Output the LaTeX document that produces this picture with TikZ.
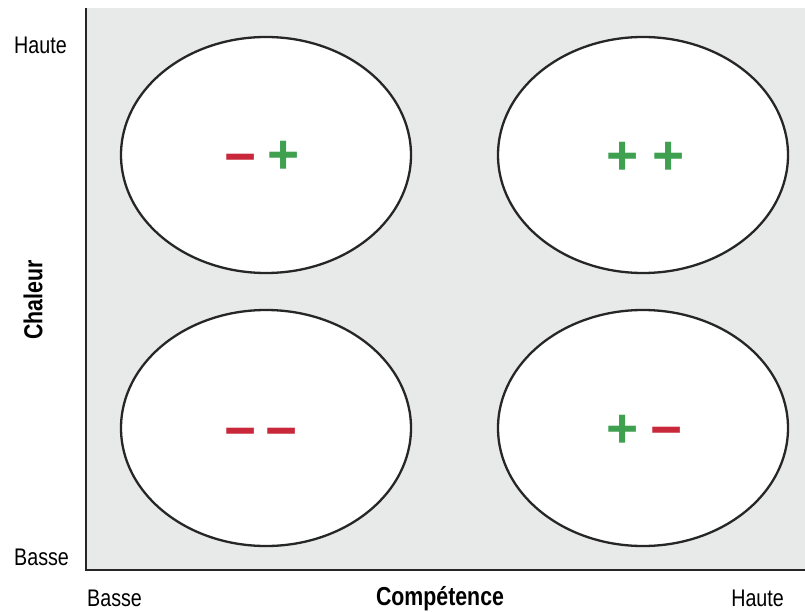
\documentclass[tikz,border=0pt]{standalone}
\usepackage{fontspec}
\setmainfont{Liberation Sans}[FakeStretch=0.82]
\newfontfamily\signfont{Liberation Sans}[FakeStretch=1.0]
\usetikzlibrary{shapes.geometric}
\definecolor{panelgray}{HTML}{E8E9E9}
\definecolor{signred}{HTML}{C8283A}
\definecolor{signgreen}{HTML}{3FA050}
\begin{document}
\begin{tikzpicture}[
    x=1pt, y=-1pt,
    quad/.style={ellipse, draw=black!85, line width=2.3pt, fill=white, minimum width=290pt, minimum height=236pt, inner sep=0pt},
    plus/.style={font=\signfont\bfseries\fontsize{55}{55}\selectfont, text=signgreen, inner sep=0pt},
    minus/.style={font=\signfont\bfseries\fontsize{55}{55}\selectfont, text=signred, inner sep=0pt, yshift=-8.8pt},
    tick/.style={font=\fontsize{24}{24}\selectfont, inner sep=0pt},
    axislabel/.style={font=\bfseries\fontsize{26}{26}\selectfont, inner sep=0pt}
]
\useasboundingbox (0,0) rectangle (805,612);

% panel and axes
\fill[panelgray] (86,8) rectangle (805,570);
\coordinate (ytop) at (86,8);
\coordinate (origin) at (86,570);
\coordinate (xend) at (805,570);
\draw[line width=2pt, black!85] (ytop) -- (origin) -- (xend);

% quadrants
\node[quad] (tl) at (266,155) {};
\node[quad] (tr) at (643,155) {};
\node[quad] (bl) at (266,428) {};
\node[quad] (br) at (643,428) {};

% signs
\node[minus] (tl_a) at (241,156) {−};
\node[plus]  (tl_b) at (284,157) {+};
\node[plus]  (tr_a) at (623,158) {+};
\node[plus]  (tr_b) at (669,158) {+};
\node[minus] (bl_a) at (241,430) {−};
\node[minus] (bl_b) at (282,430) {−};
\node[plus]  (br_a) at (623,431) {+};
\node[minus] (br_b) at (667,429) {−};

% axis labels
\node[tick, anchor=west] (y_hi) at (14,45) {Haute};
\node[tick, anchor=west] (y_lo) at (14,557) {Basse};
\node[tick, anchor=west] (x_lo) at (87,598) {Basse};
\node[tick, anchor=east] (x_hi) at (784,598) {Haute};
\node[axislabel] (x_name) at (440,599) {Compétence};
\node[axislabel, rotate=90] (y_name) at (33,300) {Chaleur};

\end{tikzpicture}
\end{document}
